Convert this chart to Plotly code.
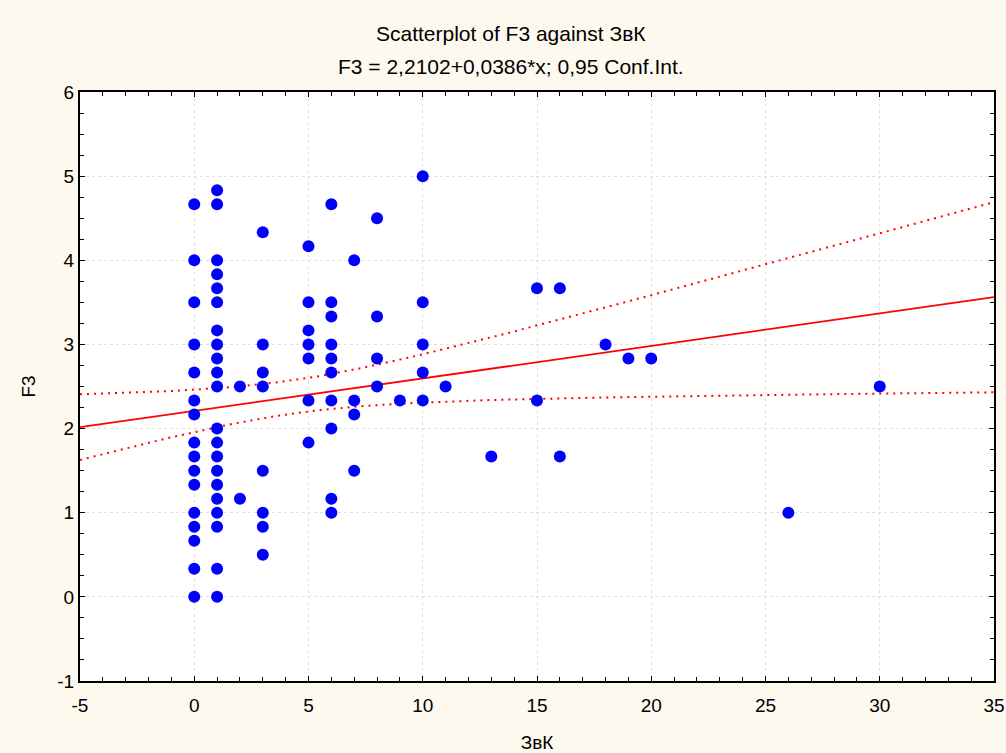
import numpy as np
import plotly.graph_objects as go

# ---- data (x = ЗвК, y = F3) ----
x_vals = (
    [0] * 16 + [1] * 21 + [2] * 2 + [3] * 8 + [5] * 7 + [6] * 10 + [7] * 4 + [8] * 4
    + [9] + [10] * 5 + [11] + [13] + [15] * 2 + [16] * 2 + [18] + [19] + [20] + [26] + [30]
)
f3_x0 = [4.667, 4, 3.5, 3, 2.667, 2.333, 2.167, 1.833, 1.667, 1.5, 1.333, 1, 0.833, 0.667, 0.333, 0]
f3_x1 = [4.833, 4.667, 4, 3.833, 3.667, 3.5, 3.167, 3, 2.833, 2.667, 2.5, 2, 1.833, 1.667, 1.5,
         1.333, 1.167, 1, 0.833, 0.333, 0]
f3_x2 = [2.5, 1.167]
f3_x3 = [4.333, 3, 2.667, 2.5, 1.5, 1, 0.833, 0.5]
f3_x5 = [4.167, 3.5, 3.167, 3, 2.833, 2.333, 1.833]
f3_x6 = [4.667, 3.5, 3.333, 3, 2.833, 2.667, 2.333, 2, 1.167, 1]
f3_x7 = [4, 2.333, 2.167, 1.5]
f3_x8 = [4.5, 3.333, 2.833, 2.5]
f3_x9 = [2.333]
f3_x10 = [5, 3.5, 3, 2.667, 2.333]
f3_rest = [2.5, 1.667, 3.667, 2.333, 3.667, 1.667, 3.0, 2.833, 2.833, 1.0, 2.5]  # x=11,13,15,15,16,16,18,19,20,26,30
y_vals = (f3_x0 + f3_x1 + f3_x2 + f3_x3 + f3_x5 + f3_x6 + f3_x7 + f3_x8 + f3_x9 + f3_x10 + f3_rest)

# regression as printed in the subtitle
intercept = 2.2102
slope = 0.0386
# summary statistics of the full sample (overlapping points hidden), estimated from the band shape
n_obs = 120
x_mean = 4.28
x_var = 29.8
resid_sd = 1.094
t_crit = 1.98

x_tick_vals = [-5, 0, 5, 10, 15, 20, 25, 30, 35]
x_tick_text = ["-5", "0", "5", "10", "15", "20", "25", "30", "35"]
y_tick_vals = [-1, 0, 1, 2, 3, 4, 5, 6]
y_tick_text = ["-1", "0", "1", "2", "3", "4", "5", "6"]

title_text = "Scatterplot of F3 against ЗвК"
subtitle_text = "F3 = 2,2102+0,0386*x; 0,95 Conf.Int."

# ---- 0.95 confidence band for the regression line ----
xl = np.linspace(-5, 35, 200)
yl = intercept + slope * xl
sxx = n_obs * x_var
hw = t_crit * resid_sd * np.sqrt(1.0 / n_obs + (xl - x_mean) ** 2 / sxx)

fig = go.Figure()
dotted = dict(color="#ff0000", width=2, dash="2px,5px")
fig.add_trace(go.Scatter(x=xl, y=yl + hw, mode="lines", line=dotted, hoverinfo="skip"))
fig.add_trace(go.Scatter(x=xl, y=yl - hw, mode="lines", line=dotted, hoverinfo="skip"))
fig.add_trace(go.Scatter(x=xl, y=yl, mode="lines",
                         line=dict(color="#ff0000", width=1.8), hoverinfo="skip"))
fig.add_trace(go.Scatter(x=x_vals, y=y_vals, mode="markers",
                         marker=dict(color="#0000ff", size=12, line=dict(width=0))))

font_family = "Liberation Sans, Arial, sans-serif"
axis_common = dict(
    showline=True, linecolor="black", linewidth=2, mirror="allticks",
    ticks="inside", ticklen=5, tickcolor="black", tickwidth=1,
    showgrid=True, gridcolor="#e0e0e0", gridwidth=1, griddash="dot",
    zeroline=False, automargin=False,
    tickfont=dict(size=19, color="black", family=font_family),
)
title_x = (511 - 80) / 914
fig.update_layout(
    width=1006, height=753,
    margin=dict(l=80, r=12, t=92, b=72, autoexpand=False),
    paper_bgcolor="#fef9ee", plot_bgcolor="white",
    showlegend=False,
    font=dict(family=font_family, color="black"),
    xaxis=dict(range=[-5, 35], tickvals=x_tick_vals, ticktext=x_tick_text,
               ticklabelstandoff=6,
               title=dict(text="ЗвК", font=dict(size=19), standoff=22),
               minor=dict(dtick=1, ticks="inside", ticklen=4, tickcolor="black", showgrid=False),
               **axis_common),
    yaxis=dict(range=[-1, 6], tickvals=y_tick_vals, ticktext=y_tick_text,
               title=dict(text="F3", font=dict(size=19), standoff=17),
               minor=dict(dtick=0.25, ticks="inside", ticklen=4, tickcolor="black", showgrid=False),
               **axis_common),
    annotations=[
        dict(text=title_text, x=title_x, y=1 + (92 - 33) / 589, xref="paper", yref="paper",
             showarrow=False, font=dict(size=21), yanchor="middle", xanchor="center"),
        dict(text=subtitle_text, x=title_x, y=1 + (92 - 66) / 589, xref="paper", yref="paper",
             showarrow=False, font=dict(size=21), yanchor="middle", xanchor="center"),
    ],
)
fig.write_html("out.html")
